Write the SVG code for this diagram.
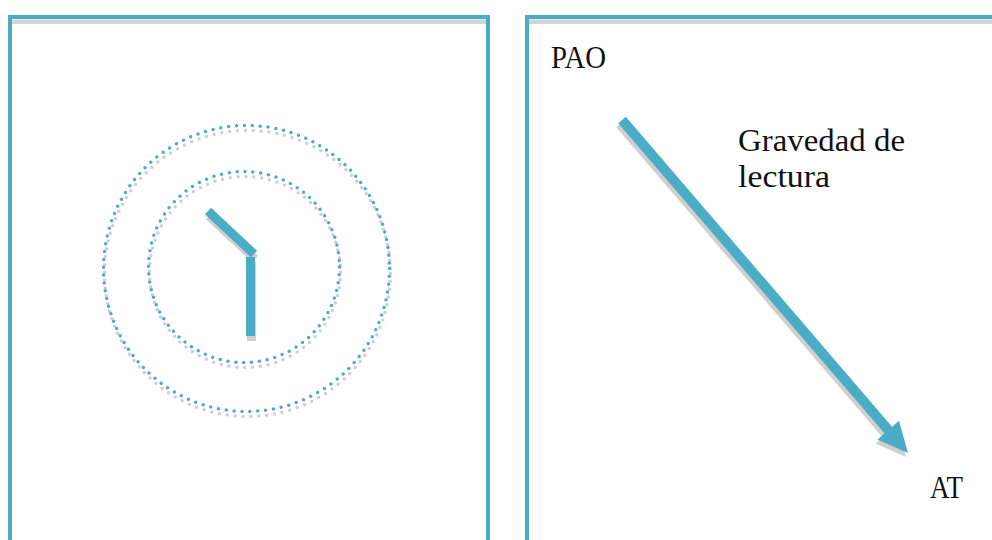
<svg xmlns="http://www.w3.org/2000/svg" width="992" height="540" viewBox="0 0 992 540">
<style>
.frame{fill:none;stroke:#4BACC6;stroke-width:4}
.band{fill:#D3D3D3}
.dotb{fill:none;stroke:#4BACC6;stroke-width:3.5;stroke-linecap:round;stroke-dasharray:0 7.9}
.dotg{fill:none;stroke:#CFCFCF;stroke-width:3.5;stroke-linecap:round;stroke-dasharray:0 7.9}
.txt{font-family:"Liberation Serif","DejaVu Serif",serif;font-size:31px;fill:#111}
</style>
<rect width="992" height="540" fill="#FFFFFF"/>
<g id="left-panel">
  <rect class="band" x="12" y="19.5" width="474" height="4.5"/>
  <path class="frame" d="M10,545 V17 H488 V545"/>
</g>
<g id="right-panel">
  <rect class="band" x="529" y="19.5" width="470" height="4.5"/>
  <path class="frame" d="M527,545 V17 H1000"/>
</g>
<g id="clock">
  <g transform="translate(1,5)">
    <circle class="dotg" cx="246.5" cy="268.5" r="143"/>
    <circle class="dotg" cx="244" cy="267" r="95.5"/>
    <path d="M208,211 L254,254" stroke="#CFCFCF" stroke-width="9" fill="none"/>
    <rect x="246" y="257" width="9" height="79" fill="#CFCFCF"/>
  </g>
  <circle class="dotb" cx="246.5" cy="268.5" r="143"/>
  <circle class="dotb" cx="244" cy="267" r="95.5"/>
  <path d="M208,211 L254,254" stroke="#4BACC6" stroke-width="9" fill="none"/>
  <rect x="246" y="257" width="9" height="79" fill="#4BACC6"/>
</g>
<g id="connectors">
  <g transform="translate(-2,4)">
    <path d="M622,120 L890,432" stroke="#CFCFCF" stroke-width="10" fill="none"/>
    <polygon points="908,453 877.5,439.5 899,420.8" fill="#CFCFCF"/>
  </g>
  <path d="M622,120 L890,432" stroke="#4BACC6" stroke-width="10" fill="none"/>
  <polygon points="908,453 877.5,439.5 899,420.8" fill="#4BACC6"/>
</g>
<g id="label-pao"><text class="txt" x="551" y="68" textLength="55" lengthAdjust="spacingAndGlyphs">PAO</text></g>
<g id="label-gravedad"><text class="txt" x="738" y="151" textLength="167" lengthAdjust="spacingAndGlyphs">Gravedad de</text><text class="txt" x="738" y="187" textLength="92" lengthAdjust="spacingAndGlyphs">lectura</text></g>
<g id="label-at"><text class="txt" x="930" y="498" textLength="33" lengthAdjust="spacingAndGlyphs">AT</text></g>
</svg>
